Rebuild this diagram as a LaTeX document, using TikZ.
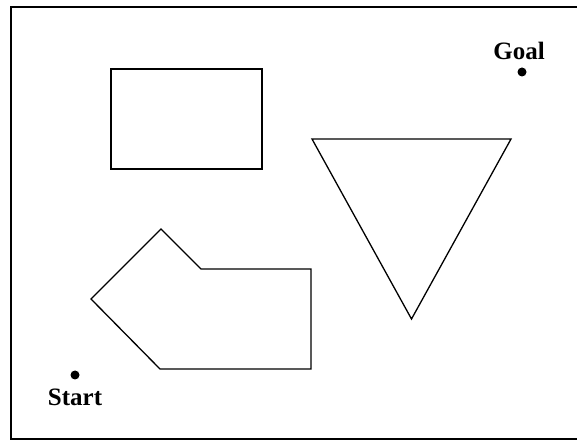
\documentclass[tikz,border=0pt]{standalone}
\usepackage{fontspec}
\setmainfont{Liberation Serif}
\begin{document}
\begin{tikzpicture}[x=1pt,y=1pt,
  obstacle/.style={draw=black,line width=1.3pt,line join=miter},
  dot/.style={circle,fill=black,inner sep=0pt,minimum size=9pt},
  lbl/.style={font=\fontsize{25}{25}\selectfont\bfseries,inner sep=0pt}]
\useasboundingbox (0,0) rectangle (577,441);
\begin{scope}
\clip (0,0) rectangle (577,441);
\draw[line width=1.8pt] (11,434) rectangle (590,2);
\end{scope}
% rectangle obstacle
\coordinate (r1) at (111,372);
\coordinate (r2) at (262,272);
\draw[obstacle] (r1) rectangle (r2);
% triangle obstacle
\coordinate (t1) at (312,302);
\coordinate (t2) at (511,302);
\coordinate (t3) at (411.5,122);
\draw[obstacle] (t1) -- (t2) -- (t3) -- cycle;
% polygon obstacle
\coordinate (p1) at (161,212);
\coordinate (p2) at (201,172);
\coordinate (p3) at (311,172);
\coordinate (p4) at (311,72);
\coordinate (p5) at (160,72);
\coordinate (p6) at (91,142);
\draw[obstacle] (p1) -- (p2) -- (p3) -- (p4) -- (p5) -- (p6) -- cycle;
% start and goal
\node[dot] (start) at (75,66) {};
\node[lbl] (startlbl) at (75,44) {Start};
\node[dot] (goal) at (522,369) {};
\node[lbl] (goallbl) at (519,390) {Goal};
\end{tikzpicture}
\end{document}
